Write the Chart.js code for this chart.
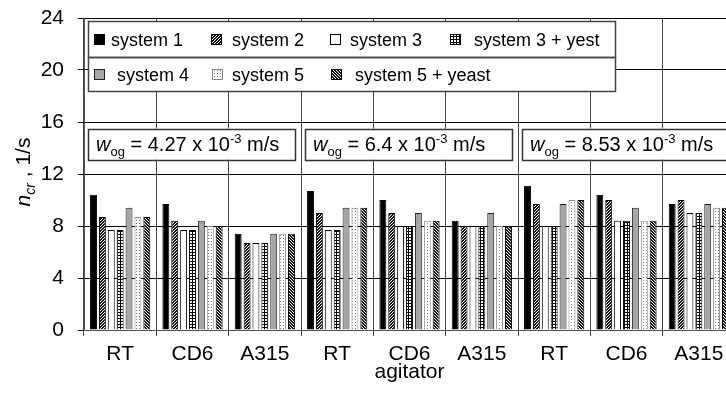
<!DOCTYPE html>
<html>
<head>
<meta charset="utf-8">
<script src="https://cdn.jsdelivr.net/npm/chart.js@4/dist/chart.umd.min.js"></script>
<style>
html, body { margin: 0; padding: 0; background: #fff; overflow: hidden; width: 726px; height: 396px; }
canvas { display: block; }
</style>
</head>
<body>
<canvas id="chart" width="740" height="396" style="width:740px;height:396px"></canvas>
<script>
const agitators = ["RT", "CD6", "A315", "RT", "CD6", "A315", "RT", "CD6", "A315"]
const gasVelocities = ["4.27", "6.4", "8.53"]
const seriesNames = ["system 1", "system 2", "system 3", "system 3 + yest", "system 4", "system 5", "system 5 + yeast"]
const system1 = [10.4, 9.7, 7.4, 10.7, 10.0, 8.4, 11.1, 10.4, 9.7]
const system2 = [8.7, 8.4, 6.7, 9.0, 9.0, 8.0, 9.7, 10.0, 10.0]
const system3 = [7.7, 7.7, 6.7, 7.7, 8.0, 8.0, 8.0, 8.4, 9.0]
const system3yest = [7.7, 7.7, 6.7, 7.7, 8.0, 8.0, 8.0, 8.4, 9.0]
const system4 = [9.4, 8.4, 7.4, 9.4, 9.0, 9.0, 9.7, 9.4, 9.7]
const system5 = [8.7, 8.0, 7.4, 9.4, 8.4, 8.0, 10.0, 8.4, 9.4]
const system5yeast = [8.7, 8.0, 7.4, 9.4, 8.4, 8.0, 10.0, 8.4, 9.4]
const yMin = 0, yMax = 24, yStep = 4

const FONT = "'Liberation Sans', Arial, sans-serif"

// little bitmap patterns for the black & white bar fills
function makePattern(size, pixel) {
    const c = document.createElement("canvas")
    c.width = size; c.height = size
    const g = c.getContext("2d")
    g.fillStyle = "#fff"
    g.fillRect(0, 0, size, size)
    for (let x = 0; x < size; x++) {
        for (let y = 0; y < size; y++) {
            const col = pixel(x, y)
            if (col) { g.fillStyle = col; g.fillRect(x, y, 1, 1) }
        }
    }
    return g.createPattern(c, "repeat")
}
const hatchUp = makePattern(3, (x, y) => ((x + y) % 3 < 2 ? "#111" : null))
const hatchDown = makePattern(3, (x, y) => (((x - y) % 3 + 3) % 3 < 2 ? "#111" : null))
const gridFill = makePattern(3, (x, y) => (x == 0 || y == 0 ? "#000" : null))
const dotFill = makePattern(3, (x, y) => (x == 1 && y == 1 ? "#777" : null))

const fills = ["#000", hatchUp, "#fff", gridFill, "#a6a6a6", dotFill, hatchDown]
const borders = ["#000", "#000", "#000", "#000", "#222", "#888", "#000"]
const values = [system1, system2, system3, system3yest, system4, system5, system5yeast]

function runsWidth(ctx, runs) {
    let w = 0
    runs.forEach(r => {
        ctx.font = (r.italic ? "italic " : "") + r.size + "px " + FONT
        w += ctx.measureText(r.text).width
    })
    return w
}
function drawRuns(ctx, runs, x, y) {
    let cx = x
    runs.forEach(r => {
        ctx.font = (r.italic ? "italic " : "") + r.size + "px " + FONT
        ctx.fillText(r.text, cx, y + (r.dy || 0))
        cx += ctx.measureText(r.text).width
    })
}

const extras = {
    id: "extras",
    afterDatasetsDraw(chart) {
        const ctx = chart.ctx
        const area = chart.chartArea
        const xs = chart.scales.x
        const ys = chart.scales.y
        ctx.save()
        ctx.fillStyle = "#000"
        ctx.textBaseline = "alphabetic"

        // legend box (two rows)
        const lx = area.left + 4, lr = 615
        const rows = [[21, 57], [57, 91]]
        ctx.fillStyle = "#fff"
        ctx.fillRect(lx, rows[0][0], lr - lx, rows[1][1] - rows[0][0])
        ctx.strokeStyle = "#444"
        ctx.lineWidth = 1.5
        rows.forEach(r => ctx.strokeRect(lx + 0.5, r[0] + 0.5, lr - lx, r[1] - r[0]))
        const items = [
            [0, 94, 111], [1, 211, 232], [2, 330, 350], [3, 450, 474],
            [4, 94, 117], [5, 212, 232], [6, 331, 355]
        ]
        items.forEach((it, k) => {
            const row = k < 4 ? rows[0] : rows[1]
            const cy = (row[0] + row[1]) / 2
            const ds = chart.data.datasets[it[0]]
            ctx.fillStyle = ds.backgroundColor
            ctx.fillRect(it[1], cy - 5, 11, 11)
            ctx.strokeStyle = ds.borderColor
            ctx.lineWidth = 1
            ctx.strokeRect(it[1] + 0.5, cy - 4.5, 10, 10)
            ctx.fillStyle = "#000"
            ctx.font = "18px " + FONT
            ctx.fillText(ds.label, it[2], cy + 6.5)
        })

        // gas velocity boxes, one per group of three agitators
        const step = xs.width / agitators.length
        const top = ys.getPixelForValue(15.5), bottom = ys.getPixelForValue(13.1)
        gasVelocities.forEach((v, i) => {
            const left = xs.getPixelForValue(i * 3) - step / 2 + 4
            const right = xs.getPixelForValue(i * 3 + 2) + step / 2 - 6
            ctx.fillStyle = "#fff"
            ctx.fillRect(left, top, right - left, bottom - top)
            ctx.strokeStyle = "#333"
            ctx.lineWidth = 1.5
            ctx.strokeRect(Math.round(left) + 0.5, Math.round(top) + 0.5, Math.round(right - left), Math.round(bottom - top))
            ctx.fillStyle = "#000"
            drawRuns(ctx, [
                {text: "w", italic: true, size: 20},
                {text: "og", size: 13, dy: 5},
                {text: " = " + v + " x 10", size: 20},
                {text: "-3", size: 13, dy: -8},
                {text: " m/s", size: 20}
            ], left + 8, (top + bottom) / 2 + 7)
        })

        // y axis title with subscript
        const title = [
            {text: "n", italic: true, size: 21},
            {text: "cr", italic: true, size: 14, dy: 5},
            {text: " , 1/s", size: 21}
        ]
        ctx.translate(30, 172)
        ctx.rotate(-Math.PI / 2)
        drawRuns(ctx, title, -runsWidth(ctx, title) / 2, 0)
        ctx.restore()
    }
}

const chartEl = document.getElementById("chart")
const barChart = new Chart(chartEl, {
    type: "bar",
    data: {
        labels: agitators,
        datasets: seriesNames.map((name, i) => ({
            label: name,
            data: values[i],
            backgroundColor: fills[i],
            borderColor: borders[i],
            borderWidth: 1,
            categoryPercentage: 0.86,
            barPercentage: 0.78
        }))
    },
    options: {
        responsive: false,
        animation: false,
        devicePixelRatio: 1,
        layout: { padding: { top: 18, right: 5, left: 0, bottom: 0 } },
        plugins: { legend: { display: false }, tooltip: { enabled: false } },
        scales: {
            x: {
                offset: true,
                grid: { offset: true, color: "#444", lineWidth: 1, tickLength: 6, drawTicks: true },
                border: { color: "#555" },
                ticks: { color: "#000", font: { family: FONT, size: 21 }, padding: 6 },
                title: { display: true, text: "agitator", color: "#000", font: { family: FONT, size: 21 }, padding: { top: 0, bottom: 11 } },
                afterFit(scale) { scale.height = 66 }
            },
            y: {
                min: yMin,
                max: yMax,
                ticks: { stepSize: yStep, color: "#000", font: { family: FONT, size: 21 }, padding: 14 },
                grid: { color: "#000", lineWidth: 1, tickLength: 6 },
                border: { color: "#555" },
                afterFit(scale) {
                    scale.width = 84
                    scale.paddingTop = 0
                    scale.paddingBottom = 0
                }
            }
        }
    },
    plugins: [extras]
})
</script>
</body>
</html>
